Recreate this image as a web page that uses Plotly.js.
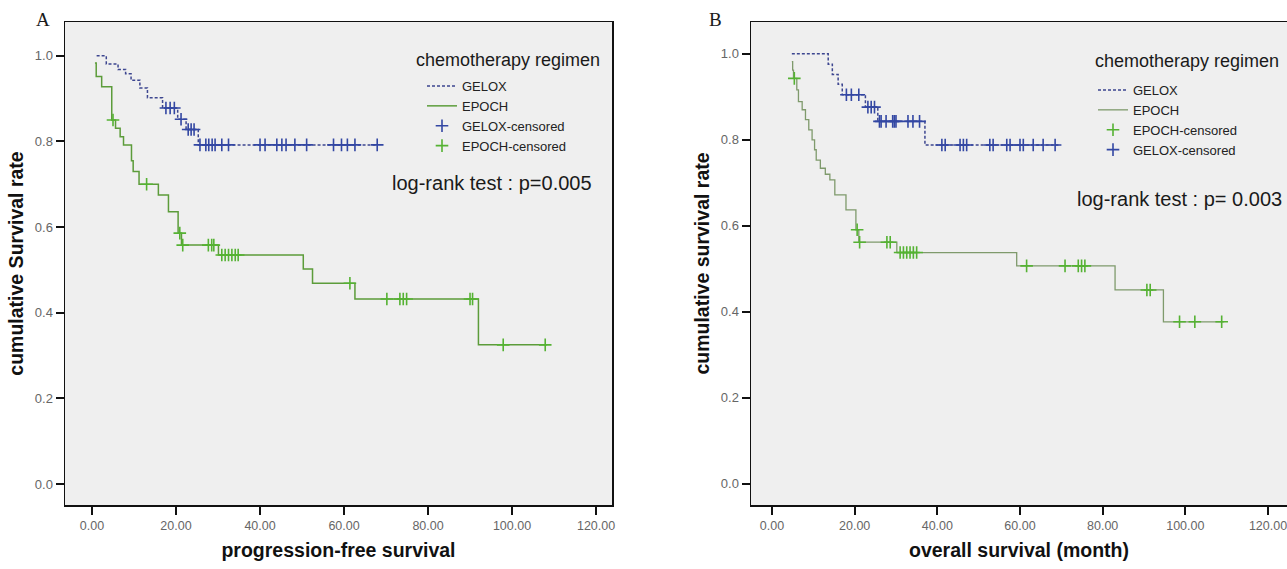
<!DOCTYPE html>
<html><head><meta charset="utf-8">
<script src="https://cdn.plot.ly/plotly-3.0.1.min.js"></script>
<style>html,body{margin:0;padding:0;background:#fff}#chart{width:1287px;height:569px}</style>
</head><body><div id="chart"></div>
<script>
// ---- Panel A: progression-free survival ----
const pfsGeloxTime = [1.1, 3.4, 6.2, 8.0, 9.3, 11.4, 13.2, 16.8, 20.4, 22.4, 25.3, 68.0];
const pfsGeloxSurv = [1.0, 0.981, 0.968, 0.958, 0.943, 0.925, 0.902, 0.878, 0.852, 0.828, 0.792, 0.792];
const pfsGeloxCensor = [17.6, 18.6, 19.6, 21.2, 22.9, 23.6, 24.3, 25.7, 27.1, 27.8, 28.6, 29.3, 30.9, 32.5, 40.0, 41.2, 44.0, 45.2, 46.2, 48.3, 51.1, 57.5, 59.4, 60.8, 62.6, 67.9];

const pfsEpochTime = [0.7, 1.0, 2.3, 4.7, 5.6, 6.7, 7.5, 9.4, 9.8, 11.2, 15.8, 18.2, 20.5, 21.3, 30.1, 50.3, 52.5, 62.6, 92.0, 108.3];
const pfsEpochSurv = [0.983, 0.952, 0.928, 0.850, 0.831, 0.811, 0.792, 0.755, 0.730, 0.700, 0.675, 0.636, 0.586, 0.558, 0.535, 0.502, 0.469, 0.432, 0.325, 0.325];
const pfsEpochCensor = [5.0, 13.0, 20.9, 21.6, 27.7, 28.5, 29.0, 30.9, 31.7, 32.5, 33.3, 34.1, 34.8, 61.4, 70.2, 73.3, 74.1, 74.9, 90.0, 90.6, 97.9, 107.9];

// ---- Panel B: overall survival (month) ----
const osGeloxTime = [4.8, 13.6, 14.6, 16.0, 17.0, 22.6, 25.6, 37.0, 69.3];
const osGeloxSurv = [1.0, 0.976, 0.952, 0.929, 0.905, 0.876, 0.843, 0.788, 0.788];
const osGeloxCensor = [18.0, 19.2, 21.0, 23.2, 24.0, 24.8, 26.0, 26.4, 27.6, 29.2, 29.6, 30.0, 32.9, 34.1, 35.7, 41.1, 41.9, 45.5, 46.3, 47.1, 52.7, 53.5, 56.8, 57.6, 60.0, 60.8, 63.2, 65.6, 68.5];

const osEpochTime = [4.8, 5.0, 5.2, 6.0, 6.4, 7.3, 8.1, 8.9, 9.7, 10.3, 10.7, 11.7, 12.9, 14.0, 15.2, 17.9, 20.3, 21.0, 30.2, 59.2, 83.0, 94.7, 109.4];
const osEpochSurv = [0.982, 0.962, 0.943, 0.916, 0.889, 0.870, 0.847, 0.823, 0.800, 0.777, 0.753, 0.734, 0.720, 0.707, 0.672, 0.637, 0.591, 0.562, 0.538, 0.507, 0.451, 0.377, 0.377];
const osEpochCensor = [5.4, 20.6, 21.2, 27.8, 28.6, 31.0, 31.8, 32.6, 33.4, 34.2, 35.0, 61.6, 70.9, 74.1, 74.9, 75.7, 90.7, 91.5, 98.6, 102.3, 108.8];

// ---- ticks & labels ----
const xTickVals = [0, 20, 40, 60, 80, 100, 120];
const xTickText = ['0.00', '20.00', '40.00', '60.00', '80.00', '100.00', '120.00'];
const yTickVals = [0, 0.2, 0.4, 0.6, 0.8, 1.0];
const yTickText = ['0.0', '0.2', '0.4', '0.6', '0.8', '1.0'];
const legendTitle = 'chemotherapy regimen';
const pfsTest = 'log-rank test : p=0.005';
const osTest = 'log-rank test : p= 0.003';

// survival level of a step curve at time t
function survAt(times, surv, t) {
  let s = surv[0];
  for (let i = 0; i < times.length; i++) { if (times[i] <= t) s = surv[i]; }
  return s;
}

const GELOX_LINE = '#3d4690';
const GELOX_MARK = '#3347a3';
const EPOCH_LINE_A = '#5c9c3a';
const EPOCH_LINE_B = '#7f9a6c';
const EPOCH_MARK = '#55b233';

function stepTrace(x, y, name, color, dash, xa, ya, lg, width) {
  return {x: x, y: y, name: name, mode: 'lines', type: 'scatter', xaxis: xa, yaxis: ya, legend: lg,
    line: {shape: 'hv', color: color, width: width, dash: dash}, hoverinfo: 'skip'};
}
function censorTrace(ct, times, surv, name, color, xa, ya, lg) {
  return {x: ct, y: ct.map(t => survAt(times, surv, t)), name: name, mode: 'markers', type: 'scatter',
    xaxis: xa, yaxis: ya, legend: lg,
    marker: {symbol: 'cross-thin', size: 9, line: {color: color, width: 1.6}, color: color}, hoverinfo: 'skip'};
}

const traces = [
  stepTrace(pfsGeloxTime, pfsGeloxSurv, 'GELOX', GELOX_LINE, '3px,2px', 'x', 'y', 'legend', 1.5),
  stepTrace(pfsEpochTime, pfsEpochSurv, 'EPOCH', EPOCH_LINE_A, 'solid', 'x', 'y', 'legend', 1.5),
  censorTrace(pfsGeloxCensor, pfsGeloxTime, pfsGeloxSurv, 'GELOX-censored', GELOX_MARK, 'x', 'y', 'legend'),
  censorTrace(pfsEpochCensor, pfsEpochTime, pfsEpochSurv, 'EPOCH-censored', EPOCH_MARK, 'x', 'y', 'legend'),
  stepTrace(osGeloxTime, osGeloxSurv, 'GELOX', GELOX_LINE, '3px,2px', 'x2', 'y2', 'legend2', 1.5),
  stepTrace(osEpochTime, osEpochSurv, 'EPOCH', EPOCH_LINE_B, 'solid', 'x2', 'y2', 'legend2', 1.3),
  censorTrace(osEpochCensor, osEpochTime, osEpochSurv, 'EPOCH-censored', EPOCH_MARK, 'x2', 'y2', 'legend2'),
  censorTrace(osGeloxCensor, osGeloxTime, osGeloxSurv, 'GELOX-censored', GELOX_MARK, 'x2', 'y2', 'legend2')
];

const W = 1287, H = 569;
const FONT = 'Liberation Sans, Arial, sans-serif';
function xAxis(domain, range, title, anchor) {
  return {domain: domain, range: range, anchor: anchor, tickmode: 'array', tickvals: xTickVals, ticktext: xTickText,
    ticks: 'outside', ticklen: 8, tickwidth: 2, tickcolor: '#111', showline: true, linecolor: '#111', linewidth: 1.5,
    mirror: true, showgrid: false, zeroline: false, ticklabeloverflow: 'allow',
    tickfont: {size: 12.5, color: '#666', family: FONT},
    title: {text: '<b>' + title + '</b>', font: {size: 19.5, color: '#111', family: FONT}, standoff: 12}};
}
function yAxis(domain, range, title, anchor, mirror) {
  return {domain: domain, range: range, anchor: anchor, tickmode: 'array', tickvals: yTickVals, ticktext: yTickText,
    ticks: 'outside', ticklen: 8, tickwidth: 2, tickcolor: '#111', showline: true, linecolor: '#111', linewidth: 1.5,
    mirror: mirror, showgrid: false, zeroline: false, tickfont: {size: 13, color: '#666', family: FONT},
    title: {text: '<b>' + title + '</b>', font: {size: 19.5, color: '#111', family: FONT}, standoff: 6}};
}
function legendBox(leftPx, topPx) {
  return {x: leftPx / W, xanchor: 'left', y: 1 - topPx / H, yanchor: 'top', bgcolor: 'rgba(0,0,0,0)',
    font: {size: 13, color: '#222', family: FONT}, tracegroupgap: 0, itemwidth: 30, traceorder: 'normal'};
}
function note(text, xPx, yPx, anchor, size, family) {
  return {text: text, xref: 'paper', yref: 'paper', x: xPx / W, y: 1 - yPx / H, xanchor: anchor, yanchor: 'middle',
    showarrow: false, font: {family: family || FONT, size: size, color: '#1a1a1a'}};
}

const layout = {
  width: W, height: H, margin: {l: 0, r: 0, t: 0, b: 0}, showlegend: true,
  paper_bgcolor: '#ffffff', plot_bgcolor: '#efefef', font: {family: FONT},
  xaxis: xAxis([65 / W, 612 / W], [-6.43, 123.8], 'progression-free survival', 'y'),
  yaxis: yAxis([1 - 505 / H, 1 - 22 / H], [-0.049, 1.079], 'cumulative Survival rate', 'x', true),
  xaxis2: xAxis([751 / W, 1], [-5.08, 124.6], 'overall survival (month)', 'y2'),
  yaxis2: yAxis([1 - 505 / H, 1 - 22 / H], [-0.049, 1.074], 'cumulative survival rate', 'x2', false),
  legend: legendBox(422, 71),
  legend2: legendBox(1093, 75),
  annotations: [
    note('A', 34, 20, 'left', 19, 'Liberation Serif, Times New Roman, serif'),
    note('B', 707, 20, 'left', 19, 'Liberation Serif, Times New Roman, serif'),
    note(legendTitle, 507.5, 60, 'center', 18),
    note(legendTitle, 1186.5, 61, 'center', 18),
    note(pfsTest, 390, 183, 'left', 20),
    note(osTest, 1075, 199, 'left', 20)
  ]
};

Plotly.newPlot('chart', traces, layout, {staticPlot: true, displayModeBar: false});
</script>
</body></html>
